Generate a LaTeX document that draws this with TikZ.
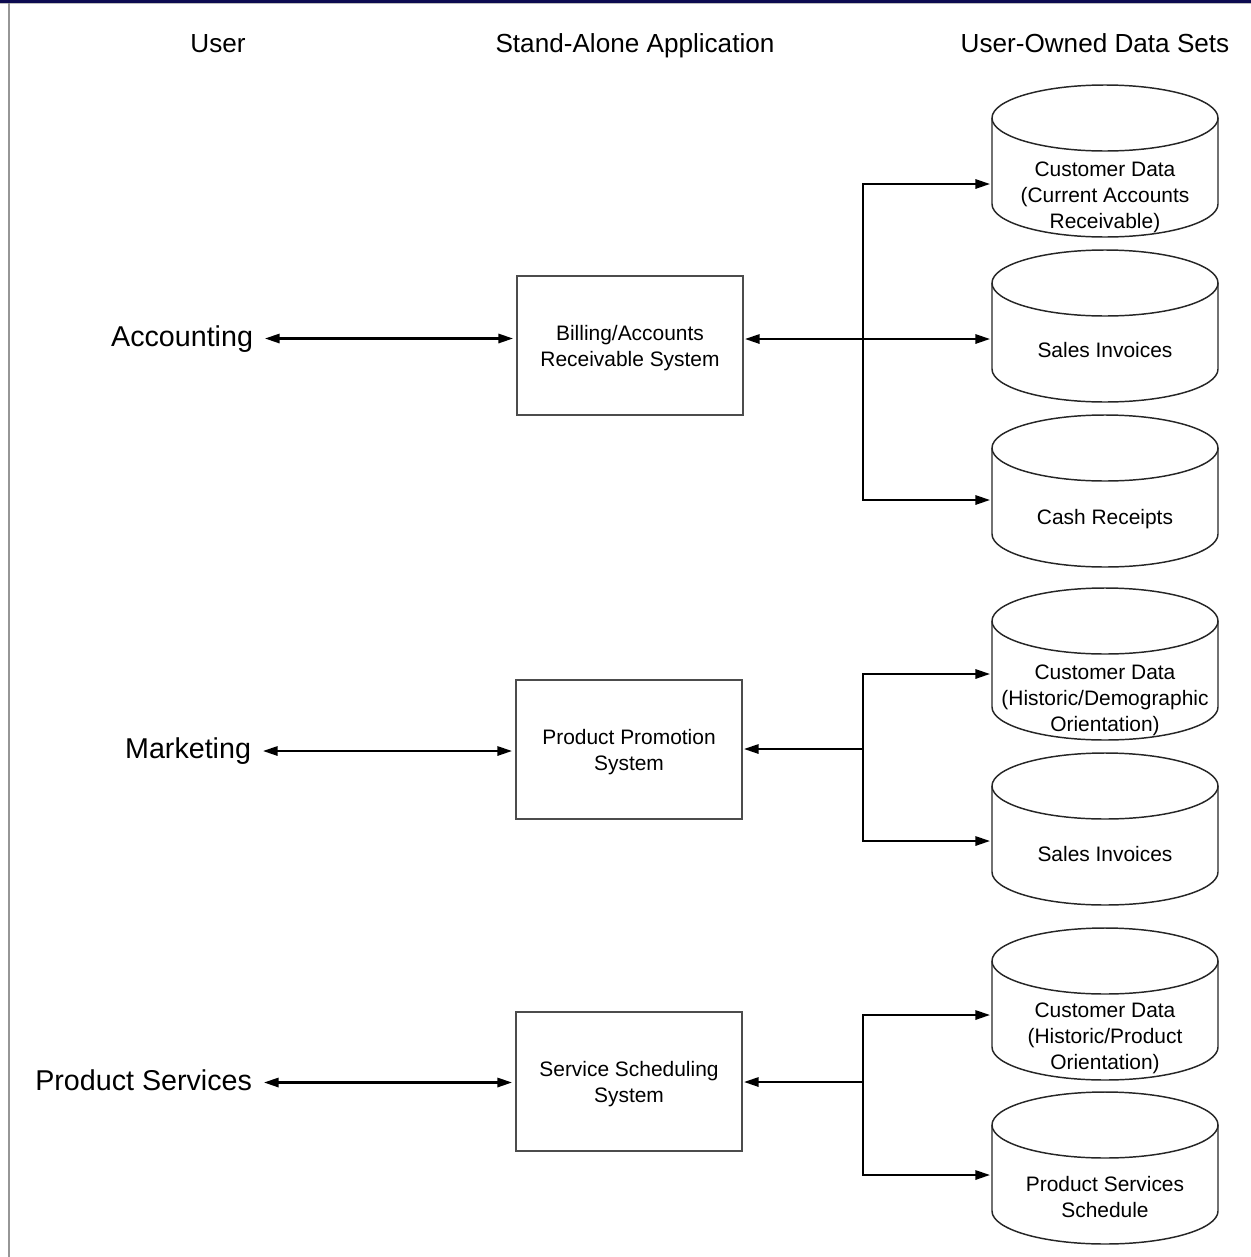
\documentclass[tikz,border=0pt]{standalone}
\usepackage{fontspec}
\setmainfont{Liberation Sans}
\usetikzlibrary{arrows.meta,calc}
\definecolor{framenavy}{RGB}{12,10,80}
\definecolor{framegray}{RGB}{150,150,150}
\begin{document}
\begin{tikzpicture}[x=0.75pt,y=-0.75pt,
  every node/.style={inner sep=0pt,outer sep=0pt},
  headtext/.style={font=\fontsize{19.6}{23}\selectfont,anchor=base},
  usertext/.style={font=\fontsize{21.5}{26}\selectfont,anchor=east,
    text height=16pt,text depth=4.5pt},
  appbox/.style={draw=black!70,line width=1.1pt,minimum width=169.5pt,
    minimum height=104.25pt},
  boxtext/.style={align=center,font=\fontsize{15.7}{19.5}\selectfont},
  dbbox/.style={minimum width=169.5pt,minimum height=114pt},
  dbline/.style={draw=black!85,line width=1.1pt},
  conn/.style={draw=black,line width=1.6pt},
  tip/.tip={Triangle[length=11pt,width=7pt]},
  userlink/.style={conn,tip-tip,shorten <=9pt,shorten >=3pt}
]
% canvas and frame
\useasboundingbox (0,0) rectangle (1251,1257);
\fill[framenavy] (0,0) rectangle (1251,3.2);
\fill[black!25] (0,3.2) rectangle (1251,4.4);
\fill[framegray] (7.5,3.2) rectangle (10,1257);

% column headings
\node[headtext] (hUser) at (218,52) {User};
\node[headtext] (hApp)  at (635,52) {Stand-Alone Application};
\node[headtext] (hData) at (1095,52) {User-Owned Data Sets};

% users
\node[usertext] (acc) at (253,338.5) {Accounting};
\node[usertext] (mkt) at (251,751) {Marketing};
\node[usertext] (svc) at (252,1082.5) {Product Services};

% applications
\node[appbox] (bill)  at (630,345.5) {};
\node[appbox] (promo) at (629,749.5) {};
\node[appbox] (sched) at (629,1081.5) {};
\node[boxtext] (billT)  at ($(bill.center)+(0,3)$) {Billing/Accounts\\Receivable System};
\node[boxtext] (promoT) at ($(promo.center)+(0,3)$) {Product Promotion\\System};
\node[boxtext] (schedT) at ($(sched.center)+(0,3)$) {Service Scheduling\\System};

% data set cylinders (node = bounding box of the cylinder)
\node[dbbox] (c1) at (1105,161) {};
\node[dbbox] (c2) at (1105,326) {};
\node[dbbox] (c3) at (1105,491) {};
\node[dbbox] (c4) at (1105,664) {};
\node[dbbox] (c5) at (1105,829) {};
\node[dbbox] (c6) at (1105,1004) {};
\node[dbbox] (c7) at (1105,1168) {};

\foreach \c in {c1,c2,c3,c4,c5,c6,c7}{
  \draw[dbline] ($(\c.north west)+(0,33)$) -- ($(\c.south west)+(0,-33)$)
    arc[start angle=180,end angle=0,x radius=113,y radius=33]
    -- ($(\c.north east)+(0,33)$);
  \draw[dbline] ($(\c.north)+(0,33)$) ellipse[x radius=113,y radius=33];
}

\node[boxtext] (t1) at ($(c1.north)+(0,112)$) {Customer Data\\(Current Accounts\\Receivable)};
\node[boxtext] (t2) at ($(c2.north)+(0,100)$) {Sales Invoices};
\node[boxtext] (t3) at ($(c3.north)+(0,104)$) {Cash Receipts};
\node[boxtext] (t4) at ($(c4.north)+(0,112)$) {Customer Data\\(Historic/Demographic\\Orientation)};
\node[boxtext] (t5) at ($(c5.north)+(0,101)$) {Sales Invoices};
\node[boxtext] (t6) at ($(c6.north)+(0,110)$) {Customer Data\\(Historic/Product\\Orientation)};
\node[boxtext] (t7) at ($(c7.north)+(0,105)$) {Product Services\\Schedule};

% attachment points on the cylinders
\coordinate (c1in) at ($(c1.west)+(-2,23)$);
\coordinate (c2in) at ($(c2.west)+(-2,13)$);
\coordinate (c3in) at ($(c3.west)+(-2,9)$);
\coordinate (c4in) at ($(c4.west)+(-2,10)$);
\coordinate (c5in) at ($(c5.west)+(-2,12)$);
\coordinate (c6in) at ($(c6.west)+(-2,11)$);
\coordinate (c7in) at ($(c7.west)+(-2,7)$);

% branch junctions
\coordinate (j1) at (863,339);
\coordinate (j2) at (863,749);
\coordinate (j3) at (863,1082);

% user <-> application
\draw[userlink] (acc.east) -- (acc.east -| bill.west);
\draw[userlink] (mkt.east) -- (mkt.east -| promo.west);
\draw[userlink] (svc.east) -- (svc.east -| sched.west);

% application <-> data sets
\draw[conn,tip-tip] ($(bill.east |- c2in)+(2,0)$) -- (c2in);
\draw[conn,-tip] (j1) |- (c1in);
\draw[conn,-tip] (j1) |- (c3in);

\draw[conn,-tip] (j2) -- ($(j2 -| promo.east)+(2,0)$);
\draw[conn,-tip] (j2) |- (c4in);
\draw[conn,-tip] (j2) |- (c5in);

\draw[conn,-tip] (j3) -- ($(j3 -| sched.east)+(2,0)$);
\draw[conn,-tip] (j3) |- (c6in);
\draw[conn,-tip] (j3) |- (c7in);
\end{tikzpicture}
\end{document}
